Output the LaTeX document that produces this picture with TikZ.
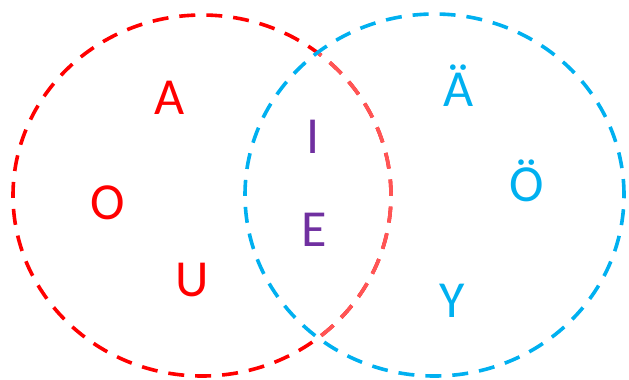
\documentclass[tikz,border=0pt]{standalone}
\usepackage{fontspec}
\setmainfont{Carlito}
\definecolor{VennRed}{RGB}{255,0,0}
\definecolor{VennPink}{RGB}{255,85,85}
\definecolor{VennBlue}{RGB}{0,176,240}
\definecolor{VennPurple}{RGB}{112,48,160}

\begin{document}
\begin{tikzpicture}[x=1pt, y=-1pt,
                ring/.style={line width=3.6pt,
                dash pattern=on 16pt off 11pt},
                lett/.style={inner sep=0pt,
                anchor=base,
                font=\fontsize{52}{52}\selectfont}]
                \useasboundingbox (0,0) rectangle (629,380);
                % the two sets
                \coordinate (redc) at (202,195.5);
                \coordinate (bluec) at (434.5,195);
                \draw[ring, VennRed] (redc) ellipse [x radius=189pt, y radius=180.5pt];
                \begin{scope}
                    \clip (bluec) ellipse [x radius=189.5pt, y radius=181pt];
                    \draw[ring, VennPink] (redc) ellipse [x radius=189pt, y radius=180.5pt];
                \end{scope}
                \draw[ring, VennBlue] (bluec) ellipse [x radius=189.5pt, y radius=181pt];
                % letters
                \node[lett, text=VennRed] (a) at (170,114) {A};
                \node[lett, text=VennRed] (o) at (108,219) {O};
                \node[lett, text=VennRed] (u) at (192,296) {U};
                \node[lett, text=VennPurple] (i) at (313,153) {I};
                \node[lett, text=VennPurple] (e) at (314,246) {E};
                \node[lett, text=VennBlue] (ae) at (459,106) {Ä};
                \node[lett, text=VennBlue] (oe) at (527,201) {Ö};
                \node[lett, text=VennBlue] (y) at (452,317) {Y};
            \end{tikzpicture}
\end{document}
